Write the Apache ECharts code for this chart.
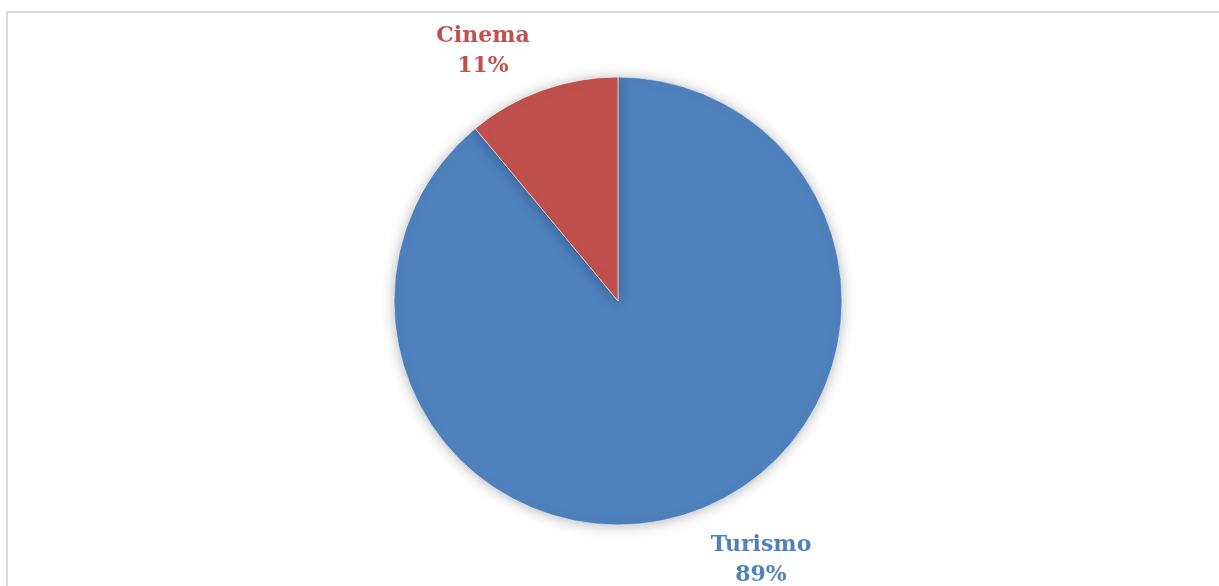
<!DOCTYPE html>
<html>
<head>
<meta charset="utf-8">
<script src="https://cdn.jsdelivr.net/npm/echarts@6/dist/echarts.min.js"></script>
<style>
  html, body { margin: 0; padding: 0; background: #ffffff; }
  #frame { position: absolute; left: 6px; top: 11px; width: 1230px; height: 600px;
           border: 2px solid #d9d9d9; box-sizing: border-box; }
  #chart { position: absolute; left: 0; top: 0; width: 1219px; height: 586px; }
</style>
</head>
<body>
<div id="frame"></div>
<div id="chart"></div>
<script>
// Share of each sector
const categories = ['Turismo', 'Cinema'];
const values = [89, 11];
const colors = ['#4f81bd', '#c0504d'];

// Where each data label sits (centre of its text block)
const labelSpots = [[761, 560], [483, 51]];

const chart = echarts.init(document.getElementById('chart'));
chart.setOption({
  animation: false,
  series: [{
    type: 'pie',
    center: [618, 301],
    radius: 224,
    startAngle: 90,
    clockwise: true,
    data: categories.map((name, i) => ({
      name: name,
      value: values[i],
      itemStyle: { color: colors[i] },
      label: { color: colors[i] }
    })),
    itemStyle: {
      borderColor: '#ffffff',
      borderWidth: 0.6,
      shadowBlur: 14,
      shadowColor: 'rgba(0,0,0,0.28)',
      shadowOffsetX: 0,
      shadowOffsetY: 1
    },
    label: {
      show: true,
      position: 'outside',
      formatter: p => p.name + '\n' + Math.round(p.percent) + '%',
      fontFamily: '"DejaVu Serif", serif',
      fontWeight: 'bold',
      fontSize: 22,
      lineHeight: 30,
      align: 'center'
    },
    labelLine: { show: false },
    labelLayout: function (params) {
      const spot = labelSpots[params.dataIndex];
      return { x: spot[0], y: spot[1], align: 'center', verticalAlign: 'middle' };
    }
  }]
});
</script>
</body>
</html>
